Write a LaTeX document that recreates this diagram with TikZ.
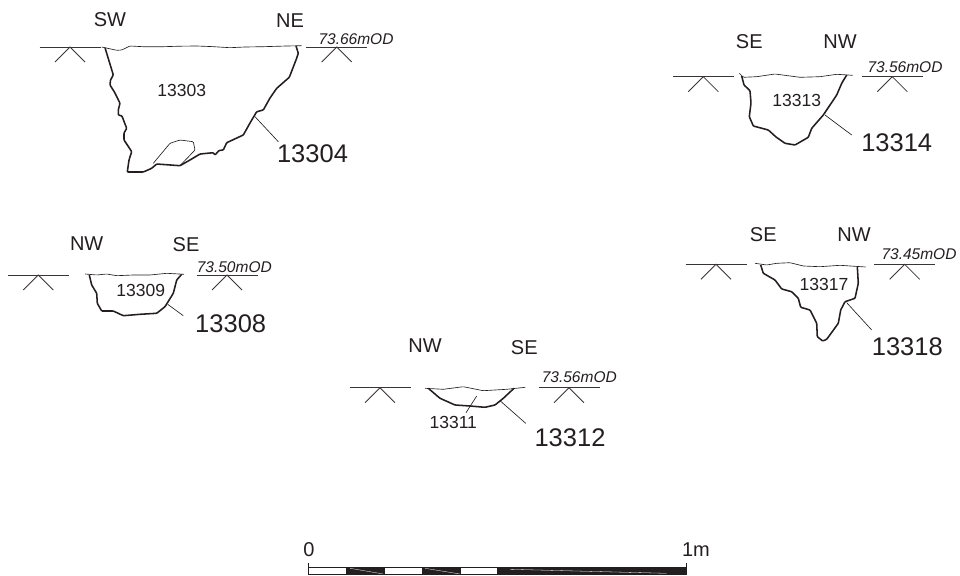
\documentclass[tikz,border=0pt]{standalone}
\usepackage{fontspec}
\setmainfont{Liberation Sans}
\definecolor{ink}{HTML}{231F20}
\tikzset{
  ground/.style={draw=ink, line width=0.65pt, rounded corners=1pt},
  cut/.style={draw=ink, line width=1.55pt, rounded corners=0.8pt},
  leader/.style={draw=ink, line width=0.65pt},
  datum/.style={draw=ink!90, line width=0.8pt},
  streak/.style={draw=white, line width=0.3pt},
  smallnum/.style={inner sep=0pt, text=ink, font=\fontsize{17.5}{20}\selectfont},
  bignum/.style={inner sep=0pt, text=ink, font=\fontsize{25.5}{28}\selectfont},
  compass/.style={inner sep=0pt, text=ink, font=\fontsize{20}{22}\selectfont},
  level/.style={inner sep=0pt, text=ink, font=\fontsize{15.5}{18}\selectfont\itshape},
}
\begin{document}
\begin{tikzpicture}[x=1pt,y=-1pt]
\useasboundingbox (0,0) rectangle (960,575);

% datum marks
\foreach \x/\y in {70/47, 336.7/47, 703.3/76.7, 892.3/76.7, 38.3/275, 227/275, 716/264.3, 904.7/264.3, 380/387.7, 569/387.7} {
  \draw [datum] (\x-30.5,\y) -- (\x+30.5,\y);
  \draw [datum] (\x-15,\y+15) -- (\x,\y) -- (\x+15,\y+15);
}

% 13304
\node (sw) [compass] at (110,20) {SW};
\node (ne) [compass] at (290,21) {NE};
\node (lev1) [level] at (356,39) {73.66mOD};
\node (n13303) [smallnum] at (181.7,90.7) {13303};
\node (n13304) [bignum] at (312.5,154) {13304};
\draw [ground] (101.7,47) -- (116.7,50.3) -- (121.7,50) -- (130,46) -- (145,46.8) -- (163.3,46.7) -- (180,46.2) -- (196.7,46) -- (212,46.6) -- (230,47.7) -- (245,47) -- (263.3,46.7) -- (286.7,46) -- (301.7,45.7);
\draw [cut] (105,47.7) -- (113.3,75) -- (110.5,80) -- (110,85) -- (115,93) -- (120,103.3) -- (118.3,110) -- (118.3,115) -- (122,116) -- (125,124) -- (126.7,128.3) -- (124,133) -- (124,140) -- (128,146) -- (131.7,151.7) -- (129,160) -- (127.3,172) -- (143.3,172) -- (151.7,168.3) -- (156.7,164) -- (180,165.7) -- (190,160) -- (200,154) -- (213.3,152.7) -- (215,155) -- (219,150.5) -- (223.3,150) -- (226.7,142.7) -- (243.3,135) -- (250,123) -- (256.7,111.7) -- (263.3,110) -- (270,98) -- (276.7,88.3) -- (289.3,77.3) -- (296,60) -- (298.3,53.3) -- (296,46);
\draw [ground] (153.3,163.3) -- (170,143.3) -- (180,140) -- (193.3,141.7) -- (195,150) -- (180,165.7);
\coordinate (a13304) at (255,116.7);
\coordinate (b13304) at (278.3,141.7);
\draw [leader] (a13304) -- (b13304);

% 13314
\node (se2) [compass] at (749.3,41.7) {SE};
\node (nw2) [compass] at (840,41.7) {NW};
\node (lev2) [level] at (905,66.7) {73.56mOD};
\node (n13313) [smallnum] at (796.7,100.7) {13313};
\node (n13314) [bignum] at (896.7,142.3) {13314};
\draw [ground] (739.3,73.3) -- (743.3,77.3) -- (756.7,76.7) -- (775,74) -- (800,77.3) -- (820,76.7) -- (836.7,74.3) -- (852.7,75.3);
\draw [cut] (741.7,76) -- (744,85) -- (750,90.7) -- (751,103) -- (749.3,116.7) -- (753.3,126) -- (768.3,130) -- (776,137) -- (785,143.3) -- (795,145) -- (808.3,137.3) -- (811.7,128.3) -- (823.3,115) -- (836.7,95) -- (841.7,83.3) -- (846.7,75);
\coordinate (a13314) at (825,115);
\coordinate (b13314) at (851.7,135);
\draw [leader] (a13314) -- (b13314);

% 13308
\node (nw3) [compass] at (86.7,243.3) {NW};
\node (se3) [compass] at (186,245) {SE};
\node (lev3) [level] at (234.3,266.7) {73.50mOD};
\node (n13309) [smallnum] at (140.7,290.7) {13309};
\node (n13308) [bignum] at (230.7,324) {13308};
\draw [ground] (85,274) -- (96.7,275) -- (106.7,274) -- (116.7,275.7) -- (133.3,275) -- (150,275) -- (166.7,273.3) -- (184,274.3);
\draw [cut] (89.3,275) -- (91.7,285) -- (96.7,293.3) -- (97.3,303.3) -- (101.7,311) -- (113.3,311) -- (123.3,315.7) -- (140,314.3) -- (156.7,313.3) -- (165,306.7) -- (173.3,293.3) -- (176.7,280) -- (181.7,274.3);
\coordinate (a13308) at (167.7,304.3);
\coordinate (b13308) at (183.3,315.7);
\draw [leader] (a13308) -- (b13308);

% 13318
\node (se4) [compass] at (763.3,235) {SE};
\node (nw4) [compass] at (854,235) {NW};
\node (lev4) [level] at (919,254.3) {73.45mOD};
\node (n13317) [smallnum] at (824,284) {13317};
\node (n13318) [bignum] at (907.3,346.7) {13318};
\draw [ground] (755,263.3) -- (766.7,265) -- (776.7,263.3) -- (790,262.7) -- (803.3,266) -- (820,266.7) -- (840,265.3) -- (865.7,267);
\draw [cut] (760.7,265) -- (763.3,273.3) -- (775,280) -- (781.7,289) -- (791.7,291.7) -- (798.3,298.3) -- (800.7,307.3) -- (810,310) -- (816.7,323.3) -- (817.3,336.7) -- (822.7,341) -- (826.7,339.3) -- (838.3,323.3) -- (840.7,310) -- (845,301.7) -- (855,298.3) -- (858.3,283.3) -- (857.3,266.7);
\coordinate (a13318) at (846.7,302.7);
\coordinate (b13318) at (871.7,330);
\draw [leader] (a13318) -- (b13318);

% 13312
\node (nw5) [compass] at (425,345.7) {NW};
\node (se5) [compass] at (524.3,347.7) {SE};
\node (lev5) [level] at (579.3,376.7) {73.56mOD};
\node (n13311) [smallnum] at (453.3,422.7) {13311};
\node (n13312) [bignum] at (570,437.3) {13312};
\draw [ground] (425,388.3) -- (443.3,389.3) -- (463.3,386.7) -- (483.3,390.7) -- (506.7,389.3) -- (525.3,387.3);
\draw [cut] (428.3,388.3) -- (440,398.3) -- (455,405) -- (470,406) -- (485,407.3) -- (495,405) -- (503.3,398.3) -- (514,388.3);
\coordinate (a13312) at (500,400.7);
\coordinate (b13312) at (525.7,423.3);
\draw [leader] (a13312) -- (b13312);
\coordinate (a13311) at (476.7,396);
\coordinate (b13311) at (466,412.7);
\draw [leader] (a13311) -- (b13311);

% scale bar
\fill [ink] (346,567.3) rectangle (385,574.3);
\fill [ink] (421.7,567.3) rectangle (460.7,574.3);
\fill [ink] (496.7,567.3) rectangle (686.7,574.3);
\draw [streak] (350,568.3) -- (383.3,574);
\draw [streak] (425,568.3) -- (460,574);
\draw [streak] (510,569.3) -- (666.7,573.3);
\draw [leader] (308.3,563.3) -- (308.3,575);
\draw [leader] (686.7,563.3) -- (686.7,575);
\draw [leader] (308.3,567.3) -- (686.7,567.3);
\draw [leader] (308.3,574.3) -- (686.7,574.3);
\node (zero) [compass] at (309,550) {0};
\node (onem) [compass] at (696,550) {1m};
\end{tikzpicture}
\end{document}
